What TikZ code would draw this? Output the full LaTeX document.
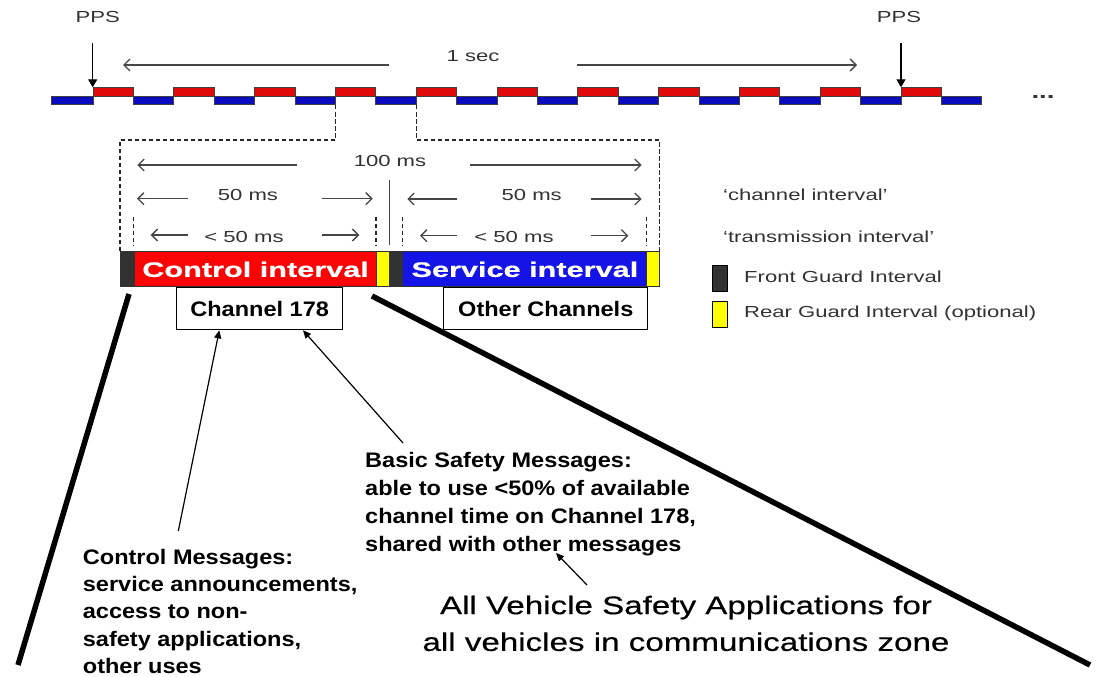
\documentclass[tikz,border=0pt]{standalone}
\usepackage{fontspec}
\setmainfont{Liberation Sans}
\newfontfamily\lblfont[FakeStretch=1.38]{Liberation Sans}
\newfontfamily\intfont[FakeStretch=1.46,FakeBold=0.6]{Liberation Sans}
\newfontfamily\chfont[FakeStretch=1.12]{Liberation Sans}
\newfontfamily\bigfont[FakeStretch=1.3,FakeBold=0.4]{Liberation Sans}
\usetikzlibrary{arrows.meta}
\definecolor{tlred}{RGB}{225,10,10}
\definecolor{tlblue}{RGB}{10,10,190}
\definecolor{barred}{RGB}{250,5,5}
\definecolor{barblue}{RGB}{20,20,230}
\definecolor{guard}{RGB}{50,50,50}
\definecolor{rearg}{RGB}{255,255,0}
\definecolor{lblgray}{RGB}{50,50,50}
\definecolor{arrgray}{RGB}{70,70,70}
\tikzset{
 lbl/.style={font=\lblfont\fontsize{16}{19}\selectfont, text=lblgray, inner sep=0pt},
 dimarr/.style={draw=arrgray, line width=1.3pt, -{Straight Barb[length=6pt,width=12pt]}},
 gdash/.style={draw=black!85, line width=1.3pt, dash pattern=on 4.5pt off 2.5pt},
 tlr/.style={fill=tlred, draw=black!75, line width=0.8pt},
 tlb/.style={fill=tlblue, draw=black!75, line width=0.8pt},
 seg/.style={draw=black!80, line width=0.8pt},
 chbox/.style={draw=black, line width=1pt, fill=white, inner sep=0pt, font=\chfont\bfseries\fontsize{21}{24}\selectfont},
 ivtext/.style={font=\intfont\bfseries\fontsize{21}{24}\selectfont, text=white, inner sep=0pt},
 body/.style={font=\chfont\bfseries\fontsize{21}{27.2}\selectfont, align=left, inner sep=0pt, anchor=north west},
 big/.style={font=\bigfont\fontsize{25.5}{36.7}\selectfont, align=center, inner sep=0pt, anchor=north},
 ptr/.style={draw=black, line width=1.2pt, -{Triangle[length=8pt,width=7pt]}},
 ppsarr/.style={draw=black, line width=1.2pt, -{Triangle[length=8pt,width=9pt]}},
 heavy/.style={draw=black, line width=5.5pt},
}
\begin{document}
\begin{tikzpicture}[x=1pt,y=-1pt]
\useasboundingbox (0,0) rectangle (1096,677);
\fill[white] (0,0) rectangle (1096,677);
% timeline
\filldraw[tlb] (51.7,96) rectangle (93,104.3);
\foreach \i in {0,...,10}{
  \pgfmathsetmacro{\xa}{93+80.8*\i}
  \filldraw[tlr] (\xa,87.3) rectangle ++(40.4,8.7);
  \filldraw[tlb] (\xa+40.4,96) rectangle ++(40.4,8.3);
}
\node[lbl, font=\lblfont\bfseries\fontsize{20}{20}\selectfont] (dots) at (1043,97) {...};
% PPS
\node[lbl] (pps1) at (97.7,17) {PPS};
\node[lbl] (pps2) at (899,17) {PPS};
\coordinate (pps1a) at (92.7,43); \coordinate (pps1b) at (92.7,87.3);
\coordinate (pps2a) at (901,43); \coordinate (pps2b) at (901,87.3);
\draw[ppsarr] (pps1a) -- (pps1b);
\draw[ppsarr] (pps2a) -- (pps2b);
% 1 sec
\node[lbl] (onesec) at (473,56) {1 sec};
\draw[dimarr] (389,65) -- (123,65);
\draw[dimarr] (577,65) -- (857,65);
% dashed zoom lines
\draw[gdash] (335.3,105) -- (335.3,140) -- (120,140) -- (120,251.7);
\draw[gdash] (416.7,105) -- (416.7,140) -- (659.3,140) -- (659.3,251.7);
% dimensions
\node[lbl] (hms) at (390,161) {100 ms};
\draw[dimarr] (296.7,165) -- (137.3,165);
\draw[dimarr] (470,165) -- (641.7,165);
\node[lbl] (f1) at (248,195) {50 ms};
\draw[dimarr] (188,198.7) -- (137,198.7);
\draw[dimarr] (321.7,198.7) -- (372.7,198.7);
\node[lbl] (f2) at (531.7,195) {50 ms};
\draw[dimarr] (457.3,199) -- (407.3,199);
\draw[dimarr] (590.7,199) -- (641.7,199);
\node[lbl] (l1) at (244,237) {< 50 ms};
\draw[dimarr] (188,235) -- (150.7,235);
\draw[dimarr] (321.7,235) -- (359.3,235);
\node[lbl] (l2) at (514,236.7) {< 50 ms};
\draw[dimarr] (457.3,235.7) -- (420,235.7);
\draw[dimarr] (590.7,235.7) -- (628.3,235.7);
\draw[draw=arrgray, line width=1.5pt] (389.3,180) -- (389.3,245);
\foreach \x in {133.3,376,402.7,646.7} \draw[gdash] (\x,216.7) -- (\x,245);
% bar
\fill[guard] (120,251.7) rectangle (134,286.7);
\node[ivtext, fill=barred, minimum width=242.7pt, minimum height=35pt, anchor=north west] (ctrl) at (134,251.7) {Control interval};
\fill[rearg] (376.7,251.7) rectangle (389.3,286.7);
\fill[guard] (389.3,251.7) rectangle (402.7,286.7);
\node[ivtext, fill=barblue, minimum width=244pt, minimum height=35pt, anchor=north west] (serv) at (402.7,251.7) {Service interval};
\fill[rearg] (646.7,251.7) rectangle (659.3,286.7);
\draw[seg] (120,251.7) rectangle (659.3,286.7);
\foreach \x in {134,376.7,389.3,402.7,646.7} \draw[seg] (\x,251.7) -- (\x,286.7);
% channel boxes
\node[chbox, minimum width=166.3pt, minimum height=42.6pt, anchor=north west] (ch178) at (176,286.7) {Channel 178};
\node[chbox, minimum width=204pt, minimum height=42.6pt, anchor=north west] (other) at (443.3,286.7) {Other Channels};
% legend
\node[lbl, anchor=west] (chint) at (723,195) {‘channel interval’};
\node[lbl, anchor=west] (trint) at (723,237) {‘transmission interval’};
\filldraw[fill=guard, draw=black, line width=0.8pt] (712,265) rectangle (727,291);
\node[lbl, anchor=west] (fgi) at (744,277) {Front Guard Interval};
\filldraw[fill=rearg, draw=black, line width=0.8pt] (712,301) rectangle (727,327);
\node[lbl, anchor=west] (rgi) at (744,313) {Rear Guard Interval (optional)};
% heavy lines
\draw[heavy] (129,294) -- (18,665);
\draw[heavy] (372,296) -- (1090,665);
% texts
\node[body] (ctrlmsg) at (82.7,549) {Control Messages:\\service announcements,\\access to non-\\safety applications,\\other uses};
\node[body, font=\chfont\bfseries\fontsize{21}{28}\selectfont] (bsm) at (365,452) {Basic Safety Messages:\\able to use <50\% of available\\channel time on Channel 178,\\shared with other messages};
\node[big] (allveh) at (686,595.5) {All Vehicle Safety Applications for\\all vehicles in communications zone};
% pointer arrows
\coordinate (cmtail) at (178.3,531);
\draw[ptr] (cmtail) -- ([xshift=43.3pt]ch178.south west);
\draw[ptr] ([xshift=38pt,yshift=9pt]bsm.north west) -- ([xshift=127pt]ch178.south west);
\draw[ptr] ([xshift=-99pt,yshift=10.5pt]allveh.north) -- ([xshift=191pt,yshift=-101pt]bsm.north west);
\end{tikzpicture}
\end{document}
